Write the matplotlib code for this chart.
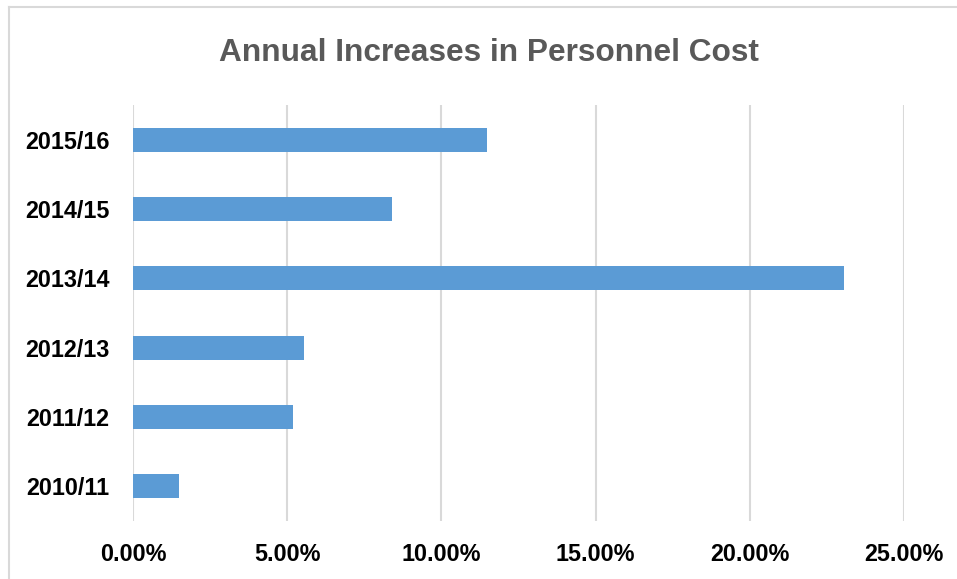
import matplotlib.pyplot as plt
from matplotlib.lines import Line2D
from matplotlib.ticker import FuncFormatter

# data (percent), bottom to top
years = ['2010/11', '2011/12', '2012/13', '2013/14', '2014/15', '2015/16']
increases = [1.50, 5.19, 5.55, 23.06, 8.39, 11.47]
xticks = [0, 5, 10, 15, 20, 25]

font = 'Liberation Sans'

fig = plt.figure(figsize=(9.57, 5.79), dpi=100)
ax = fig.add_axes([0.139, 0.1002, 0.8056, 0.7185])

ax.barh(years, increases, height=0.346, color='#5B9BD5', zorder=3)

ax.set_xlim(0, 25)
ax.set_ylim(-0.5, 5.5)
ax.set_xticks(xticks)
ax.xaxis.set_major_formatter(FuncFormatter(lambda v, p: '%.2f%%' % v))
ax.grid(axis='x', color='#D9D9D9', linewidth=1.5, zorder=0)
ax.grid(axis='y', visible=False)
for s in ax.spines.values():
    s.set_visible(False)
ax.tick_params(axis='both', length=0, labelsize=16.8)
ax.tick_params(axis='y', pad=17)
ax.tick_params(axis='x', pad=16)
for lbl in ax.get_xticklabels() + ax.get_yticklabels():
    lbl.set_fontfamily(font)
    lbl.set_fontweight('bold')
    lbl.set_color('black')

fig.text(0.511, 0.908, 'Annual Increases in Personnel Cost', ha='center', va='center',
         fontsize=22.8, fontweight='bold', color='#595959', family=font)

# chart area border (top and left edges visible)
fig.add_artist(Line2D([9 / 957, 9 / 957], [0, 1 - 7 / 579], transform=fig.transFigure,
                      color='#D9D9D9', linewidth=1.5))
fig.add_artist(Line2D([9 / 957, 1], [1 - 7 / 579, 1 - 7 / 579], transform=fig.transFigure,
                      color='#D9D9D9', linewidth=1.5))

plt.savefig('out.png', dpi=100)
